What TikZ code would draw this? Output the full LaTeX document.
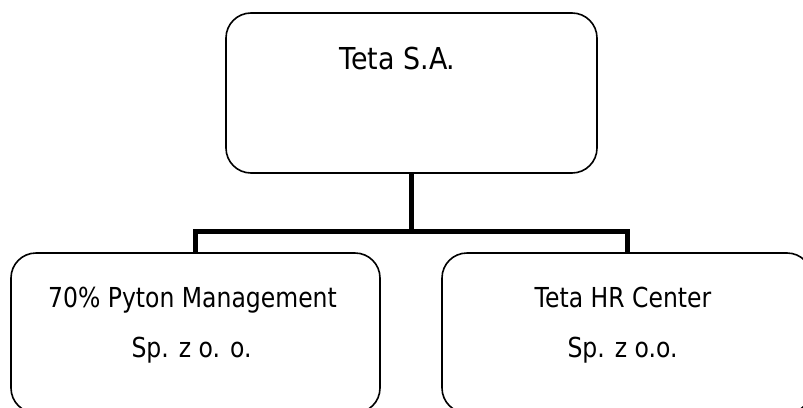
\documentclass[tikz,border=0pt]{standalone}
\usepackage{fontspec}
\setmainfont{DejaVu Sans}[FakeStretch=0.855]
\newfontfamily\headfont{DejaVu Sans}[FakeStretch=0.89]
\begin{document}
\begin{tikzpicture}[x=1pt,y=-1pt,
  orgbox/.style={draw=black, line width=1.6pt, rounded corners=25pt, fill=white,
                 inner sep=0pt},
  link/.style={draw=black, line width=5pt, line join=miter},
  lbl/.style={anchor=base, inner sep=0pt, font=\fontsize{27.5}{33}\selectfont},
  headlbl/.style={anchor=base, inner sep=0pt, font=\headfont\fontsize{30.2}{36}\selectfont}]
  \useasboundingbox (0,0) rectangle (803,407);
  \clip (0,0) rectangle (803,407);
  % company boxes
  \node[orgbox, minimum width=371pt, minimum height=160pt] (top)   at (411.5,93) {};
  \node[orgbox, minimum width=369pt, minimum height=160pt] (left)  at (195.5,333) {};
  \node[orgbox, minimum width=370pt, minimum height=160pt] (right) at (627,333) {};
  % ownership connectors
  \coordinate (bus) at (411.5,231.5);
  \draw[link] (top.south) -- (bus);
  \draw[link] (left.north) |- (bus) -| (right.north);
  % labels
  \node[headlbl] (tname) at (397.5,69) {Teta S.A.};
  \node[lbl] (lname1) at (192.5,307) {70\% Pyton Management};
  \node[lbl] (lname2) at (191.5,357) {Sp. z o. o.};
  \node[lbl] (rname1) at (623,307)   {Teta HR Center};
  \node[lbl] (rname2) at (622.5,357) {Sp. z o.o.};
\end{tikzpicture}
\end{document}
